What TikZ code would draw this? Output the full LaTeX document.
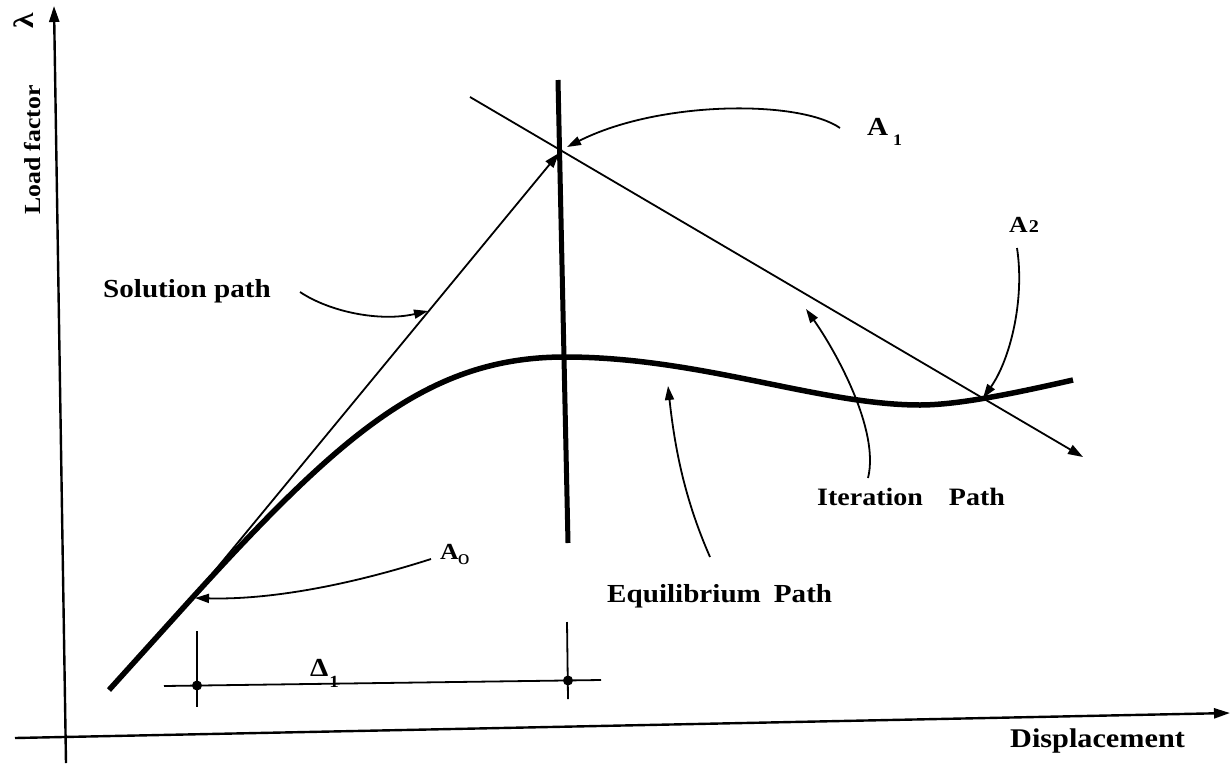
\documentclass[tikz,border=0pt]{standalone}
\usepackage{fontspec}
\setmainfont{Liberation Serif}
\newfontfamily\lbf{Liberation Serif}[FakeStretch=1.12]
\usetikzlibrary{arrows.meta}
\tikzset{
  lbl/.style={font=\lbf\bfseries\fontsize{25}{30}\selectfont, inner sep=0pt, anchor=base west},
  axisline/.style={line width=2.4pt, -{Triangle[length=16pt,width=10pt]}},
  eqline/.style={line width=5.5pt},
  vline/.style={line width=5pt},
  thinline/.style={line width=1.8pt},
  tipped/.style={-{Triangle[length=15pt,width=10pt]}},
  callout/.style={line width=1.8pt, -{Triangle[length=14pt,width=9pt]}},
  dimline/.style={line width=1.8pt},
}
\begin{document}
\begin{tikzpicture}[x=1pt,y=-1pt,line join=round]
\path[use as bounding box, fill=white] (0,0) rectangle (1231,763);

% axes
\coordinate (yb) at (66,763);
\coordinate (yt) at (54,6);
\coordinate (xl) at (15,738);
\coordinate (xr) at (1230,713);
\draw[axisline] (yb) -- (yt);
\draw[axisline] (xl) -- (xr);

% equilibrium path
\coordinate (e0) at (109,690);
\coordinate (eA) at (193,597);
\coordinate (ePk) at (565,357);
\coordinate (eM) at (920,405);
\coordinate (eEnd) at (1073,380);
\draw[eqline] (e0) -- (eA)
  .. controls (343,432) and (430,357) .. (ePk)
  .. controls (700,357) and (820,405) .. (eM)
  .. controls (960,405) and (1020,392) .. (eEnd);

% vertical constraint line
\coordinate (vt) at (558,80);
\coordinate (vb) at (568,543);
\draw[vline] (vt) -- (vb);

% solution path (tangent)
\coordinate (P0) at (193,597);
\coordinate (P1) at (559,153);
\draw[thinline, tipped] (P0) -- (P1);

% iteration path
\coordinate (it) at (470,97);
\coordinate (ie) at (1083,457);
\draw[thinline, tipped] (it) -- (ie);

% dimension Delta_1
\coordinate (dl) at (164,686);
\coordinate (dr) at (601,680);
\coordinate (dlt) at (197,631);
\coordinate (dlb) at (197,707);
\coordinate (drt) at (567,622);
\coordinate (drb) at (568,699);
\coordinate (dld) at (197,685.5);
\coordinate (drd) at (568,680.5);
\draw[dimline] (dl) -- (dr);
\draw[dimline] (dlt) -- (dlb);
\draw[dimline] (drt) -- (drb);
\fill (dld) circle (5pt);
\fill (drd) circle (5pt);
\node[lbl, font=\lbf\bfseries\fontsize{26}{28}\selectfont] (dlab) at (310,676)
  {Δ\hspace{1pt}\raisebox{-11pt}{\fontsize{17}{17}\selectfont 1}};

% labels
\node[lbl, rotate=90, font=\lbf\bfseries\fontsize{23}{28}\selectfont] (lf) at (40,215) {Load factor};
\node[inner sep=0pt, rotate=90, font=\lbf\bfseries\fontsize{28}{30}\selectfont] (lam) at (24,21) {λ};
\node[lbl, font=\lbf\bfseries\fontsize{27}{30}\selectfont] (disp) at (1010,747) {Displacement};
\node[lbl, font=\lbf\bfseries\fontsize{26}{30}\selectfont] (sol) at (103,297) {Solution path};
\node[lbl, font=\lbf\bfseries\fontsize{26}{30}\selectfont] (equ) at (607,602) {Equilibrium\hspace{0.5em}Path};
\node[lbl] (ite) at (817,505) {Iteration\hspace{26pt}Path};
\node[lbl, font=\lbf\bfseries\fontsize{26}{30}\selectfont] (a1) at (867,135)
  {A\hspace{5pt}\raisebox{-10pt}{\fontsize{16}{16}\selectfont 1}};
\node[lbl, font=\lbf\bfseries\fontsize{23}{26}\selectfont] (a2) at (1009,232)
  {A\hspace{1pt}{\fontsize{18}{18}\selectfont 2}};
\node[lbl, font=\lbf\bfseries\fontsize{23}{26}\selectfont] (a0) at (440,559)
  {A\hspace{-1pt}\raisebox{-5pt}{\fontsize{21}{21}\selectfont\mdseries o}};

% callout arrows
\coordinate (s1) at (300,292);  \coordinate (s2) at (428,311);
\draw[callout] (s1) .. controls (330,312) and (380,322) .. (s2);
\coordinate (c1) at (840,128);  \coordinate (c2) at (567,147);
\draw[callout] (c1) .. controls (800,100) and (660,100) .. (c2);
\coordinate (b1) at (1017,248); \coordinate (b2) at (983,398);
\draw[callout] (b1) .. controls (1025,300) and (1010,360) .. (b2);
\coordinate (i1) at (868,478);  \coordinate (i2) at (806,309);
\draw[callout] (i1) .. controls (880,430) and (835,350) .. (i2);
\coordinate (e1) at (710,557);  \coordinate (e2) at (668,386);
\draw[callout] (e1) .. controls (685,500) and (675,450) .. (e2);
\coordinate (o1) at (431,559);  \coordinate (o2) at (195,598);
\draw[callout] (o1) .. controls (350,585) and (270,600) .. (o2);
\end{tikzpicture}
\end{document}
